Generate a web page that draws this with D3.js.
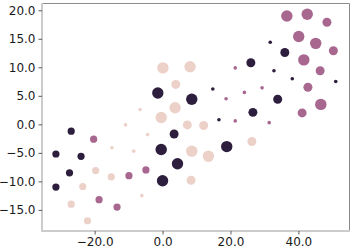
<!DOCTYPE html>
<html>
<head>
<meta charset="utf-8">
<script src="https://cdn.jsdelivr.net/npm/d3@7"></script>
<style>
  html, body { margin: 0; padding: 0; background: #fff; }
  svg text { font-family: "DejaVu Sans", sans-serif; }
</style>
</head>
<body>
<svg id="chart" width="355" height="252"></svg>
<script>
// Data
const xValues = [36.6, 42.6, 48.4, 40.1, 45.1, 50.3, 31.7, 36.0, 26.0, 41.6,
  32.8, 46.4, 38.2, 51.0, 42.8, 24.1, 29.3, 33.9, 46.6, 26.6,
  41.1, 0.1, 8.1, 3.9, -1.4, 8.6, 14.8, 21.4, 18.7, 3.7,
  -0.4, -6.6, 16.6, 21.4, 31.4, 7.3, 12.1, -4.4, 3.4, -0.4,
  8.6, 13.5, 18.9, 4.4, -4.9, 0.0, 8.4, -6.1, 26.3, -26.9,
  -20.3, -10.9, -31.4, -24.0, -14.9, -8.5, -27.4, -19.7, -15.1, -9.9,
  -31.4, -23.5, -26.9, -18.7, -13.4, -22.1];
const yValues = [19.0, 19.3, 17.9, 15.4, 14.2, 12.9, 14.4, 12.6, 10.8, 11.3,
  9.4, 9.4, 8.0, 7.5, 6.5, 5.6, 6.4, 4.4, 3.5, 2.1,
  2.0, 9.9, 10.1, 7.0, 5.5, 4.4, 6.2, 9.9, 4.5, 2.9,
  1.2, 2.6, 0.8, 0.6, 0.3, -0.1, -0.2, -1.8, -1.7, -4.4,
  -4.7, -5.6, -3.9, -6.9, -8.0, -9.9, -9.8, -12.5, -3.0, -1.2,
  -2.6, -0.1, -5.2, -5.6, -4.1, -4.7, -8.5, -8.1, -9.2, -9.0,
  -11.0, -10.9, -14.0, -13.2, -14.5, -16.9];
// hue group: 0 = light, 1 = mauve, 2 = dark
const hueValues = [1, 1, 1, 1, 1, 1, 2, 2, 2, 1,
  2, 1, 2, 2, 1, 1, 1, 2, 1, 2,
  1, 0, 0, 0, 2, 2, 2, 1, 1, 0,
  0, 0, 2, 1, 1, 0, 0, 0, 2, 2,
  0, 0, 2, 2, 1, 2, 0, 0, 0, 2,
  1, 0, 2, 2, 0, 0, 2, 0, 0, 1,
  2, 0, 0, 1, 1, 0];
const sizeValues = [100, 100, 62, 100, 100, 62, 10, 62, 62, 100,
  10, 62, 10, 10, 62, 10, 10, 62, 100, 62,
  62, 100, 100, 62, 100, 100, 10, 10, 10, 100,
  100, 10, 10, 10, 10, 62, 62, 10, 62, 100,
  100, 100, 100, 100, 40, 100, 62, 10, 62, 40,
  40, 10, 40, 40, 10, 10, 40, 40, 40, 40,
  40, 40, 40, 40, 40, 40];
const xTicks = [-20, 0, 20, 40];
const yTicks = [-15, -10, -5, 0, 5, 10, 15, 20];
const hueColors = ["#ecd1c9", "#a8678f", "#2d1e3e"];

const points = xValues.map((x, i) => ({ x, y: yValues[i], h: hueValues[i], s: sizeValues[i] }));

const svg = d3.select("#chart");
const mLeft = 42, mRight = 349, mTop = 4, mBottom = 231;

const x = d3.scaleLinear().domain([-35.5, 54.9]).range([mLeft, mRight]);
const y = d3.scaleLinear().domain([-18.7, 21.1]).range([mBottom, mTop]);
const r = d3.scaleSqrt().domain([0, 100]).range([0, 5.7]);
const color = d3.scaleOrdinal().domain([0, 1, 2]).range(hueColors);

// top / right frame
svg.append("line").attr("x1", mLeft).attr("x2", mRight + 0.5).attr("y1", mTop - 0.5).attr("y2", mTop - 0.5)
  .attr("stroke", "#8c8c8c").attr("stroke-width", 1);
svg.append("line").attr("x1", mRight + 0.5).attr("x2", mRight + 0.5).attr("y1", mTop - 0.5).attr("y2", mBottom)
  .attr("stroke", "#8c8c8c").attr("stroke-width", 1);

// points
svg.append("g").selectAll("circle").data(points).join("circle")
  .attr("cx", d => x(d.x)).attr("cy", d => y(d.y)).attr("r", d => r(d.s))
  .attr("fill", d => color(d.h));

// axes
const xAxis = d3.axisBottom(x).tickValues(xTicks).tickFormat(d3.format(".1f")).tickSize(3.5).tickPadding(3);
const yAxis = d3.axisLeft(y).tickValues(yTicks).tickFormat(d3.format(".1f")).tickSize(3.5).tickPadding(3);

const gx = svg.append("g").attr("transform", `translate(0,${mBottom})`).call(xAxis);
const gy = svg.append("g").attr("transform", `translate(${mLeft},0)`).call(yAxis);

[gx, gy].forEach(g => {
  g.select(".domain").attr("stroke", "#cccccc").attr("stroke-width", 2);
  g.selectAll(".tick line").attr("stroke", "#333").attr("stroke-width", 0.8);
  g.selectAll(".tick text").attr("font-size", 12).attr("fill", "#1a1a1a")
    .attr("font-family", "DejaVu Sans, sans-serif");
});
gx.select(".domain").attr("d", `M${mLeft},0H${mRight + 1}`);
gy.select(".domain").attr("d", `M0,${mTop - 1}V${mBottom + 1}`);
</script>
</body>
</html>
